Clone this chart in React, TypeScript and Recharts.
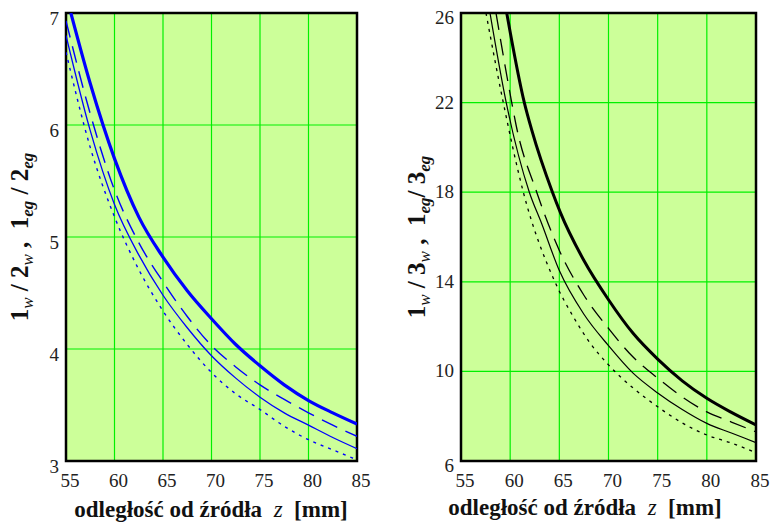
import React from 'react';
import {
    LineChart,
    Line,
    XAxis,
    YAxis,
    CartesianGrid,
    ReferenceArea,
} from 'recharts';

// odległość od źródła z [mm]
const zTicks = [55, 60, 65, 70, 75, 80, 85];
const leftYTicks = [3, 4, 5, 6, 7];
const rightYTicks = [6, 10, 14, 18, 22, 26];

// left panel: 1w/2w, 1eg/2eg (blue)
const leftZ = [55, 57.5, 60, 62.5, 65, 67.5, 70, 72.5, 75, 77.5, 80, 82.5, 85];
const leftThickZ = [55.5, 57.5, 60, 62.5, 65, 67.5, 70, 72.5, 75, 77.5, 80, 82.5, 85];
const leftThick = [7.0, 6.37, 5.7, 5.18, 4.82, 4.52, 4.27, 4.04, 3.85, 3.68, 3.54, 3.43, 3.33];
const leftDashed = [6.93, 6.1, 5.42, 4.95, 4.6, 4.29, 4.03, 3.84, 3.68, 3.55, 3.43, 3.32, 3.22];
const leftThin = [6.8, 5.95, 5.29, 4.84, 4.48, 4.19, 3.94, 3.74, 3.57, 3.43, 3.32, 3.21, 3.11];
const leftDotted = [6.65, 5.8, 5.18, 4.71, 4.34, 4.04, 3.79, 3.6, 3.46, 3.31, 3.19, 3.1, 3.01];

// right panel: 1w/3w, 1eg/3eg (black)
const rightThickZ = [59.65, 61.44, 62.19, 64.3, 65.1, 67.5, 70, 72.5, 75, 77.5, 80, 82.5, 85];
const rightThick = [26, 22, 20.78, 18, 17.1, 14.95, 13.2, 11.7, 10.55, 9.58, 8.8, 8.17, 7.61];
const rightDashedZ = [58.56, 60.16, 60.6, 62.7, 65, 67.5, 70, 72.5, 75, 77.5, 80, 82.5, 85];
const rightDashed = [26, 22, 21, 18, 15.4, 13.4, 11.92, 10.64, 9.7, 8.86, 8.19, 7.74, 7.3];
const rightThinZ = [57.95, 59.6, 61.95, 63.2, 65, 67.5, 70, 72.5, 75, 77.5, 80, 82.5, 85];
const rightThin = [26, 22, 18, 16.6, 14.5, 12.55, 11.15, 9.92, 9.04, 8.3, 7.68, 7.25, 6.82];
const rightDottedZ = [57.54, 59.3, 61.34, 64.5, 66.42, 68.12, 70, 72.5, 75, 77.5, 80, 82.5, 85];
const rightDotted = [26, 22, 18, 14.05, 12.44, 11.27, 10.29, 9.26, 8.42, 7.7, 7.16, 6.8, 6.37];

const pts = (zs: number[], ys: number[]) => zs.map((z, i) => ({ z, y: ys[i] }));

const FONT = '"Liberation Serif", "Times New Roman", Times, serif';

const XTick = ({ x, y, payload }: any) => (
    <text x={x + 4} y={y} dy={24} textAnchor="middle" fontFamily={FONT} fontSize={19} fill="#222">
        {payload.value}
    </text>
);

const LeftYTick = ({ x, y, payload }: any) => (
    <text x={x - 1} y={y} dy={12} textAnchor="end" fontFamily={FONT} fontSize={19} fill="#222">
        {payload.value}
    </text>
);

const RightYTick = ({ x, y, payload }: any) => {
    const v = payload.value;
    const dy = v === 26 ? 11 : v === 6 ? 11 : 6;
    return (
        <text x={x - 1} y={y} dy={dy} textAnchor="end" fontFamily={FONT} fontSize={19} fill="#222">
            {v}
        </text>
    );
};

type Series = { data: { z: number; y: number }[]; width: number; dash?: string };

const Panel = ({
    width,
    yAxisWidth,
    marginRight,
    yDomain,
    yTicks,
    yTick,
    color,
    series,
}: {
    width: number;
    yAxisWidth: number;
    marginRight: number;
    yDomain: [number, number];
    yTicks: number[];
    yTick: any;
    color: string;
    series: Series[];
}) => (
    <LineChart width={width} height={523} margin={{ top: 13, right: marginRight, left: 0, bottom: 32 }}>
        <CartesianGrid fill="#ccff99" stroke="#00f000" strokeWidth={1.2} />
        <XAxis
            type="number"
            dataKey="z"
            domain={[55, 85]}
            ticks={zTicks}
            allowDataOverflow
            axisLine={false}
            tickLine={false}
            tickSize={0}
            height={30}
            tick={<XTick />}
        />
        <YAxis
            type="number"
            dataKey="y"
            domain={yDomain}
            ticks={yTicks}
            allowDataOverflow
            axisLine={false}
            tickLine={false}
            tickSize={0}
            tickMargin={6}
            width={yAxisWidth}
            tick={yTick}
        />
        <ReferenceArea
            x1={55}
            x2={85}
            y1={yDomain[0]}
            y2={yDomain[1]}
            fill="none"
            stroke="#000"
            strokeWidth={2.5}
        />
        {series.map((s, i) => (
            <Line
                key={i}
                data={s.data}
                dataKey="y"
                type="monotone"
                stroke={color}
                strokeWidth={s.width}
                strokeDasharray={s.dash}
                dot={false}
                isAnimationActive={false}
            />
        ))}
    </LineChart>
);

const Sub = ({ children, bold }: { children: React.ReactNode; bold?: boolean }) => (
    <span
        style={{
            fontSize: 17,
            fontStyle: 'italic',
            fontWeight: bold ? 'bold' : 'normal',
            position: 'relative',
            top: 5,
        }}
    >
        {children}
    </span>
);

const YTitle = ({ cx, cy, children }: { cx: number; cy: number; children: React.ReactNode }) => (
    <div
        style={{
            position: 'absolute',
            left: cx,
            top: cy,
            transform: 'translate(-50%, -50%) rotate(-90deg)',
            whiteSpace: 'pre',
            fontFamily: FONT,
            fontWeight: 'bold',
            fontSize: 25,
            color: '#111',
        }}
    >
        {children}
    </div>
);

const XTitle = ({ cx, cy }: { cx: number; cy: number }) => (
    <div
        style={{
            position: 'absolute',
            left: cx,
            top: cy,
            transform: 'translate(-50%, -50%)',
            whiteSpace: 'pre',
            lineHeight: 1,
            fontFamily: FONT,
            fontWeight: 'bold',
            fontSize: 23,
            color: '#111',
        }}
    >
        odległość od źródła <span style={{ fontStyle: 'italic', fontWeight: 'normal' }}> z </span> [mm]
    </div>
);

export default function App() {
    const blue = '#0000ff';
    const black = '#000000';
    return (
        <div style={{ position: 'absolute', left: 0, top: 0, width: 771, height: 523, background: '#fff' }}>
            <div style={{ position: 'absolute', left: 0, top: 0 }}>
                <Panel
                    width={385}
                    yAxisWidth={66}
                    marginRight={28}
                    yDomain={[3, 7]}
                    yTicks={leftYTicks}
                    yTick={<LeftYTick />}
                    color={blue}
                    series={[
                        { data: pts(leftThickZ, leftThick), width: 3.2 },
                        { data: pts(leftZ, leftDashed), width: 1.4, dash: '17 9' },
                        { data: pts(leftZ, leftThin), width: 1.3 },
                        { data: pts(leftZ, leftDotted), width: 1.4, dash: '3 5' },
                    ]}
                />
            </div>
            <div style={{ position: 'absolute', left: 385, top: 0 }}>
                <Panel
                    width={386}
                    yAxisWidth={76}
                    marginRight={15}
                    yDomain={[6, 26]}
                    yTicks={rightYTicks}
                    yTick={<RightYTick />}
                    color={black}
                    series={[
                        { data: pts(rightThickZ, rightThick), width: 3 },
                        { data: pts(rightDashedZ, rightDashed), width: 1.3, dash: '17 9' },
                        { data: pts(rightThinZ, rightThin), width: 1.2 },
                        { data: pts(rightDottedZ, rightDotted), width: 1.3, dash: '3 5' },
                    ]}
                />
            </div>
            <YTitle cx={20} cy={237}>
                1<Sub>w</Sub> / 2<Sub>w</Sub> ,  1<Sub bold>eg</Sub> / 2<Sub bold>eg</Sub>
            </YTitle>
            <YTitle cx={417} cy={237}>
                1<Sub>w</Sub> / 3<Sub>w</Sub> ,  1<Sub bold>eg</Sub>/ 3<Sub bold>eg</Sub>
            </YTitle>
            <XTitle cx={211} cy={509} />
            <XTitle cx={585} cy={507} />
        </div>
    );
}
